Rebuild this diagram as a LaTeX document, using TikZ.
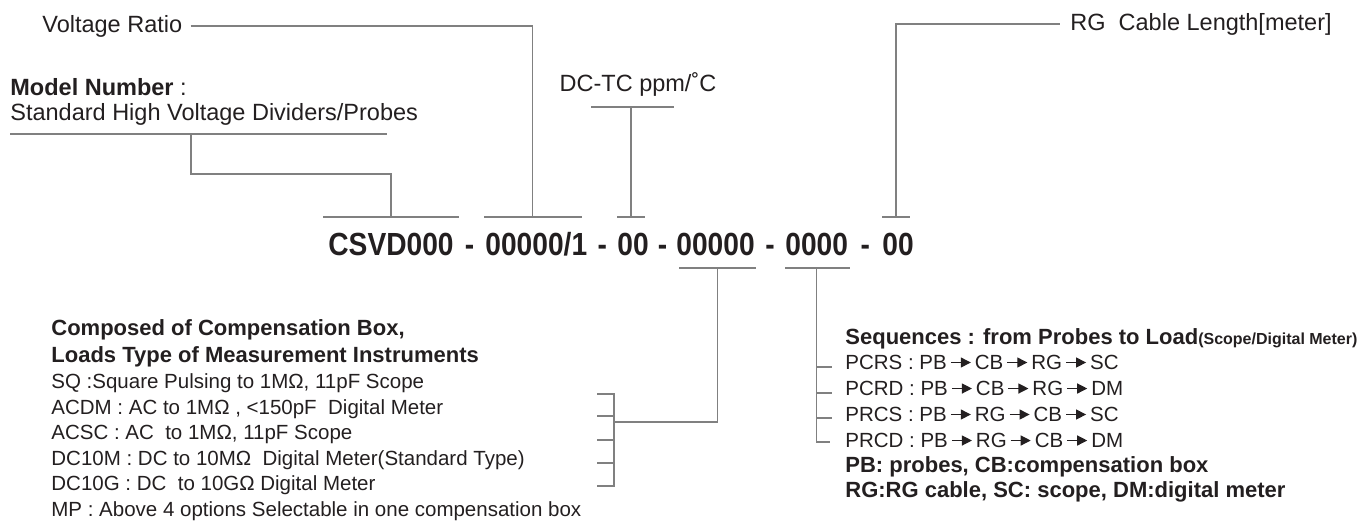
\documentclass[tikz,border=0pt]{standalone}
\usepackage{fontspec}
\setmainfont{Liberation Sans}
\newfontfamily\codefont[FakeStretch=0.88]{Liberation Sans}
\usetikzlibrary{calc,arrows.meta}
\definecolor{ink}{HTML}{231F20}
\definecolor{wire}{HTML}{808080}
\newcommand\seqarr{\,\tikz[baseline=-0.6ex]\draw[ink,line width=0.6pt,-{Triangle[length=5pt,width=5pt]}] (0pt,0pt) -- (10pt,0pt);\,}

\begin{document}
\begin{tikzpicture}[x=0.5pt,y=-0.5pt,
	lead/.style={draw=wire,line width=0.75pt},
	toplabel/.style={text=ink,inner sep=0pt,font=\fontsize{11.75pt}{14pt}\selectfont},
	listline/.style={text=ink,inner sep=0pt,anchor=base west,font=\fontsize{10.25pt}{12pt}\selectfont},
	listhead/.style={listline,font=\fontsize{11pt}{13pt}\selectfont\bfseries},
	code/.style={text=ink,inner sep=0pt,font=\codefont\bfseries\fontsize{16pt}{18pt}\selectfont}]
			%%%%% START %%%%%
			\useasboundingbox (0,0) rectangle (1364,521);
			
			% top labels
			\node[toplabel,anchor=base west] (vr) at (42,32) {Voltage Ratio};
			\node[toplabel,anchor=base west] (mn) at (10,95) {\textbf{Model Number} :};
			\node[toplabel,anchor=base west] (sh) at (10,120) {Standard High Voltage Dividers/Probes};
			\node[toplabel,anchor=base] (tc) at (638,91) {DC-TC ppm/˚C};
			\node[toplabel,anchor=base west] (rg) at (1070,30) {RG\ \ Cable Length[meter]};
			
			% model code
			\node[code,anchor=base west] (cm) at (328,255) {CSVD000};
			\node[code,anchor=base west] (vg) at (485,255) {00000/1};
			\node[code,anchor=base west] (tg) at (617,255) {00};
			\node[code,anchor=base west] (ld) at (676,255) {00000};
			\node[code,anchor=base west] (sq) at (785,255) {0000};
			\node[code,anchor=base west] (rl) at (882,255) {00};
			\node[code,anchor=base] at ($(cm.base east)!.5!(vg.base west)$) {-};
			\node[code,anchor=base] at ($(vg.base east)!.5!(tg.base west)$) {-};
			\node[code,anchor=base] at ($(tg.base east)!.5!(ld.base west)$) {-};
			\node[code,anchor=base] at ($(ld.base east)!.5!(sq.base west)$) {-};
			\node[code,anchor=base] at ($(sq.base east)!.5!(rl.base west)$) {-};
			
			% bars over and under the code
			\draw[lead] ($(cm.base west)+(-5,-38)$) -- ($(cm.base east)+(5,-38)$);
			\draw[lead] ($(vg.base west)+(-1,-38)$) -- ($(vg.base east)+(-6,-38)$);
			\draw[lead] ($(tg.base west)+(0,-38)$) -- ($(tg.base east)+(-4,-38)$);
			\draw[lead] ($(rl.base west)+(0,-38)$) -- ($(rl.base east)+(-4,-38)$);
			\draw[lead] ($(ld.base west)+(3,13)$) -- ($(ld.base east)+(1,13)$);
			\draw[lead] ($(sq.base west)+(0,13)$) -- ($(sq.base east)+(2,13)$);
			\coordinate (cmT) at ($(cm.base west)!.5!(cm.base east)+(0,-38)$);
			\coordinate (vgT) at ($(vg.base west)!.5!(vg.base east)+(-4,-38)$);
			\coordinate (tgT) at ($(tg.base west)!.5!(tg.base east)+(-2,-38)$);
			\coordinate (rlT) at ($(rl.base west)!.5!(rl.base east)+(-2,-38)$);
			\coordinate (ldB) at ($(ld.base west)!.5!(ld.base east)+(2,13)$);
			\coordinate (sqB) at ($(sq.base west)!.5!(sq.base east)+(0,13)$);
			
			% leaders to the top labels
			\draw[lead] (10,134) -- (387,134);
			\draw[lead] (cmT) |- (191,174) -- (191,134);
			\draw[lead] ([xshift=4pt]vr.east) -| (vgT);
			\draw[lead] ($(tc.base)+(-47,16)$) -- ($(tc.base)+(36,16)$);
			\draw[lead] (tgT) -- (tgT |- 0,107);
			\draw[lead] (rlT) |- ([xshift=-5pt]rg.west);
			
			% compensation box list
			\node[listhead] (cb1) at (51,335) {Composed of Compensation Box,};
			\node[listhead] (cb2) at (51,362) {Loads Type of Measurement Instruments};
			\node[listline] (cb3) at (51,388) {SQ :Square Pulsing to 1MΩ, 11pF Scope};
			\node[listline] (cb4) at (51,414) {ACDM : AC to 1MΩ , <150pF~ Digital Meter};
			\node[listline] (cb5) at (51,439) {ACSC : AC~ to 1MΩ, 11pF Scope};
			\node[listline] (cb6) at (51,465) {DC10M : DC to 10MΩ~ Digital Meter(Standard Type)};
			\node[listline] (cb7) at (51,490) {DC10G : DC~ to 10GΩ Digital Meter};
			\node[listline] (cb8) at (51,516) {MP : Above 4 options Selectable in one compensation box};
			
			\draw[lead] (ldB) |- (614,422);
			\draw[lead] (597,394) -| (614,486) -- (597,486);
			\draw[lead] (597,416) -- (614,416);
			\draw[lead] (597,440) -- (614,440);
			\draw[lead] (597,463) -- (614,463);
			
			% sequence list
			\node[listhead] (sl1) at (845,344) {Sequences : from Probes to Load{\fontsize{8pt}{9pt}\selectfont(Scope/Digital Meter)}};
			\node[listline] (sl2) at (845,369) {PCRS : PB\seqarr CB\seqarr RG\seqarr SC};
			\node[listline] (sl3) at (845,395) {PCRD : PB\seqarr CB\seqarr RG\seqarr DM};
			\node[listline] (sl4) at (845,421) {PRCS : PB\seqarr RG\seqarr CB\seqarr SC};
			\node[listline] (sl5) at (845,447) {PRCD : PB\seqarr RG\seqarr CB\seqarr DM};
			\node[listhead] (sl6) at (845,472) {PB: probes, CB:compensation box};
			\node[listhead] (sl7) at (845,497) {RG:RG cable, SC: scope, DM:digital meter};
			
			\draw[lead] (sqB) |- (830,442);
			\draw[lead] (sqB |- 0,367) -- ++(15,0);
			\draw[lead] (sqB |- 0,393) -- ++(15,0);
			\draw[lead] (sqB |- 0,418) -- ++(15,0);
			%%%%% END %%%%%
\end{tikzpicture}
\end{document}
